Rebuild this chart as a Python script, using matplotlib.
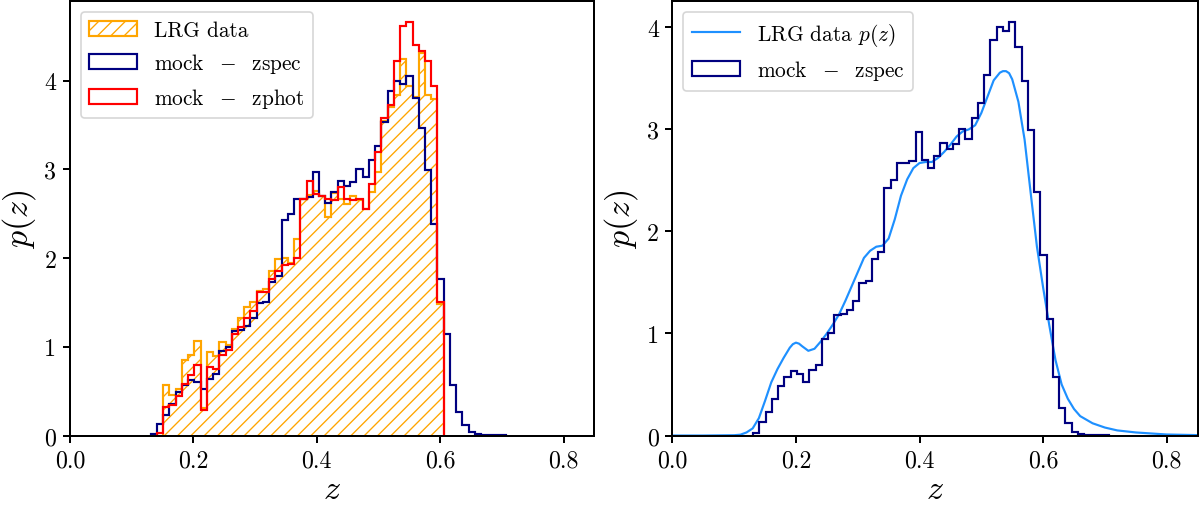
import numpy as np
import matplotlib
matplotlib.use("Agg")
import matplotlib.pyplot as plt

# ---------------- data ----------------
bin_start = 0.1309   # left edge of first bin
bin_width = 0.0101

# mock - zspec histogram (bins 0..56)
mock_zspec = [0.02, 0.13, 0.23, 0.36, 0.49, 0.57, 0.63, 0.60, 0.52, 0.64,
              0.69, 0.95, 1.00, 1.18, 1.19, 1.23, 1.32, 1.49, 1.51, 1.73,
              1.80, 2.43, 2.50, 2.67, 2.67, 2.69, 2.97, 2.70, 2.62, 2.74,
              2.87, 2.81, 2.86, 3.00, 2.91, 3.11, 3.26, 3.53, 3.88, 4.00,
              3.96, 4.05, 3.81, 3.47, 2.99, 2.39, 1.77, 1.14, 0.57, 0.27,
              0.12, 0.035, 0.015, 0.006, 0.004, 0.003, 0.002]
zspec_first_bin = 0

# LRG data histogram (bins 2..46)
lrg_data = [0.57, 0.46, 0.52, 0.85, 0.91, 1.06, 0.31, 0.94, 0.90, 1.05,
            1.02, 1.20, 1.33, 1.45, 1.50, 1.63, 1.65, 1.86, 1.99, 2.00,
            1.95, 2.22, 2.67, 2.71, 2.76, 2.70, 2.46, 2.73, 2.67, 2.61,
            2.70, 2.66, 2.55, 2.75, 2.97, 3.55, 3.70, 3.84, 4.24, 3.94,
            3.82, 4.31, 3.84, 3.79, 1.48]
lrg_first_bin = 2

# mock - zphot histogram (bins 1..46)
mock_zphot = [0.03, 0.32, 0.34, 0.45, 0.58, 0.68, 0.80, 0.29, 0.77, 0.75,
              0.91, 0.96, 1.15, 1.22, 1.33, 1.40, 1.62, 1.62, 1.76, 1.86,
              1.92, 1.93, 2.00, 2.67, 2.87, 2.72, 2.70, 2.67, 2.66, 2.80,
              2.67, 2.66, 2.67, 2.55, 2.83, 3.20, 3.58, 3.73, 4.22, 4.62,
              4.66, 4.40, 4.33, 4.22, 3.94, 1.51]
zphot_first_bin = 1

# LRG data smooth p(z)
pz_z = [0.00, 0.05, 0.10, 0.11, 0.12, 0.13, 0.14, 0.15, 0.16, 0.17,
        0.18, 0.19, 0.195, 0.20, 0.205, 0.21, 0.22, 0.23, 0.24, 0.25,
        0.26, 0.27, 0.28, 0.29, 0.30, 0.31, 0.32, 0.33, 0.34, 0.35,
        0.36, 0.37, 0.38, 0.39, 0.40, 0.41, 0.42, 0.43, 0.44, 0.45,
        0.46, 0.47, 0.48, 0.49, 0.50, 0.51, 0.52, 0.53, 0.535, 0.54,
        0.545, 0.55, 0.56, 0.57, 0.58, 0.59, 0.60, 0.61, 0.62, 0.63,
        0.64, 0.65, 0.66, 0.68, 0.70, 0.72, 0.75, 0.80, 0.85]
pz_p = [0.0, 0.0, 0.003, 0.008, 0.03, 0.07, 0.17, 0.34, 0.52, 0.65,
        0.76, 0.86, 0.895, 0.91, 0.90, 0.875, 0.83, 0.85, 0.92, 1.00,
        1.09, 1.19, 1.32, 1.46, 1.60, 1.74, 1.81, 1.85, 1.86, 1.93,
        2.12, 2.35, 2.51, 2.62, 2.67, 2.68, 2.68, 2.72, 2.78, 2.85,
        2.93, 2.98, 3.00, 3.04, 3.16, 3.32, 3.48, 3.555, 3.57, 3.57,
        3.55, 3.49, 3.27, 2.90, 2.37, 1.85, 1.45, 1.08, 0.74, 0.50,
        0.36, 0.26, 0.19, 0.12, 0.078, 0.05, 0.03, 0.01, 0.004]

x_ticks = [0.0, 0.2, 0.4, 0.6, 0.8]
y_ticks = [0, 1, 2, 3, 4]

# ---------------- style ----------------
plt.rcParams['font.family'] = 'serif'
plt.rcParams['font.serif'] = ['cmr10', 'DejaVu Serif']
plt.rcParams['mathtext.fontset'] = 'cm'
plt.rcParams['axes.formatter.use_mathtext'] = True
plt.rcParams['hatch.linewidth'] = 0.8
plt.rcParams['axes.linewidth'] = 1.2


def edges_for(first, n):
    k = np.arange(first, first + n + 1)
    return bin_start + bin_width * k


def hist_from(ax, values, first, **kw):
    vals = np.asarray(values, dtype=float)
    e = edges_for(first, len(vals))
    centers = 0.5 * (e[:-1] + e[1:])
    return ax.hist(centers, bins=e, weights=vals, histtype='step', **kw)


fig = plt.figure(figsize=(10, 509 / 120), dpi=120)
ax1 = fig.add_axes([0.0583, 0.1424, 0.4371, 0.8527])
ax2 = fig.add_axes([0.5603, 0.1424, 0.4377, 0.8527])

# left panel
hist_from(ax1, lrg_data, lrg_first_bin, color='orange', hatch='///',
          linewidth=1.3, label='LRG data')
hist_from(ax1, mock_zspec, zspec_first_bin, color='navy',
          linewidth=1.3, label=r'mock $\;-\;$ zspec')
hist_from(ax1, mock_zphot, zphot_first_bin, color='red',
          linewidth=1.3, label=r'mock $\;-\;$ zphot')

# right panel
ax2.plot(pz_z, pz_p, color='dodgerblue', linewidth=1.3,
         label=r'LRG data $p(z)$')
hist_from(ax2, mock_zspec, zspec_first_bin, color='navy',
          linewidth=1.3, label=r'mock $\;-\;$ zspec')

for ax in (ax1, ax2):
    ax.set_xlim(0, 0.85)
    ax.set_ylim(bottom=0)
    ax.set_xticks(x_ticks)
    ax.set_xticklabels([f"{t:.1f}" for t in x_ticks])
    ax.set_yticks(y_ticks)
    ax.set_yticklabels([str(t) for t in y_ticks])
    ax.tick_params(direction='out', length=4.2, width=1.2,
                   labelsize=14.4, pad=4)
    ax.set_xlabel(r'$z$', fontsize=20.5, labelpad=2)
    ax.set_ylabel(r'$p(z)$', fontsize=20.5, labelpad=4)
    ax.legend(loc='upper left', fontsize=12.8, handlelength=2.25)

fig.savefig('out.png', dpi=120)
